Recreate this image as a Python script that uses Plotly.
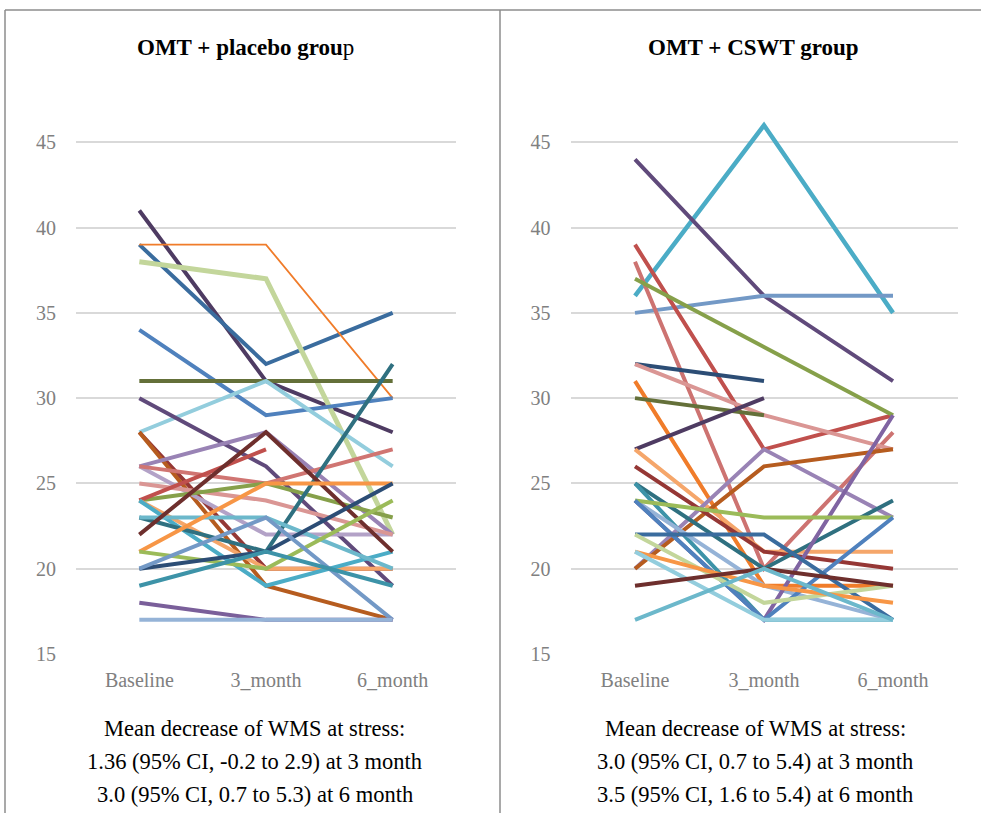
import plotly.graph_objects as go

W, H = 981, 813
time_points = ["Baseline", "3_month", "6_month"]
y_ticks = [15, 20, 25, 30, 35, 40, 45]

# ---- OMT + placebo group (values per patient) ----
placebo_baseline = [41, 39, 39, 38, 34, 31, 28, 30, 28, 28, 26, 26, 26, 25, 24, 24, 24, 24, 23, 23, 22, 21, 21, 20, 20, 19, 18, 17]
placebo_3month   = [31, 32, 39, 37, 29, 31, 31, 26, 20, 19, 28, 22, 25, 24, 25, 27, 20, 19, 21, 23, 28, 25, 20, 21, 23, 21, 17, 17]
placebo_6month   = [28, 35, 30, 22, 30, 31, 26, 19, 20, 17, 22, 22, 27, 22, 23, None, 20, 21, 32, 20, 21, 25, 24, 25, 17, 19, 17, 17]

# ---- OMT + CSWT group ----
cswt_baseline = [36, 44, 35, 39, 38, 37, 32, 32, 31, 30, 27, 27, 20, 20, 26, 25, 25, 24, 24, 24, 24, 22, 22, 21, 21, 19, 17]
cswt_3month   = [46, 36, 36, 27, 20, 33, 31, 29, 19, 29, 30, 21, 27, 26, 21, 20, 17, 19, 17, 23, 17, 22, 18, 19, 17, 20, 20]
cswt_6month   = [35, 31, 36, 29, 28, 29, None, 27, 19, None, None, 21, 23, 27, 20, 24, 17, 17, 29, 23, 23, 17, 19, 18, 17, 19, 17]

# ---- styles ----
placebo_colors = ["#4E3B62", "#3A6C9E", "#F07C2A", "#C3D69B", "#4F81BD", "#647039", "#93CDDD", "#604A7B",
                  "#953735", "#B65C1F", "#9983B5", "#B3A2C7", "#D07572", "#DA9694", "#86A04A", "#C0504D",
                  "#F5A66A", "#4BACC6", "#2F7080", "#6CB8CB", "#6E2F2D", "#F79646", "#9BBB59", "#2C4D75",
                  "#7399C6", "#3D93A8", "#7A5F9A", "#95B3D7"]
placebo_widths = [4] * 28
placebo_widths[2] = 1.8
placebo_widths[3] = 5

cswt_colors = ["#4BACC6", "#604A7B", "#7399C6", "#C0504D", "#CD7371", "#86A04A", "#2C4D75", "#DA9694",
               "#F07C2A", "#647039", "#4E3B62", "#F5A66A", "#9983B5", "#B65C1F", "#953735", "#2F7080",
               "#3D93A8", "#95B3D7", "#8064A2", "#9BBB59", "#4F81BD", "#3A6C9E", "#C3D69B", "#F79646",
               "#93CDDD", "#6E2F2D", "#6CB8CB"]
cswt_widths = [4] * 27
cswt_widths[0] = 4.5

fig = go.Figure()

def add_group(b, m3, m6, colors, widths, xa, ya):
    for i in range(len(b)):
        fig.add_trace(go.Scatter(
            x=time_points, y=[b[i], m3[i], m6[i]], mode="lines",
            line=dict(color=colors[i], width=widths[i]),
            xaxis=xa, yaxis=ya, showlegend=False, hoverinfo="skip", connectgaps=False))

add_group(placebo_baseline, placebo_3month, placebo_6month, placebo_colors, placebo_widths, "x", "y")
add_group(cswt_baseline, cswt_3month, cswt_6month, cswt_colors, cswt_widths, "x2", "y2")

K = 0.985  # observed vertical render factor
def py(px):
    return 1 - (px / K) / H

ydom = [py(653), py(653 - 32 * 17.03)]
tickfont = dict(family="Liberation Serif", size=20, color="#808080")

axis_x = dict(type="category", range=[-0.5, 2.5], showgrid=False, zeroline=False, showline=False,
              ticks="outside", ticklen=8, tickcolor="rgba(0,0,0,0)", tickfont=tickfont)
axis_y = dict(range=[15, 47], tickvals=y_ticks, showgrid=True, gridcolor="#D9D9D9", gridwidth=1.5,
              zeroline=False, showline=False, ticks="outside", ticklen=15, tickcolor="rgba(0,0,0,0)",
              tickfont=tickfont, domain=ydom)

fig.update_layout(
    width=W, height=H, margin=dict(l=0, r=0, t=0, b=0),
    paper_bgcolor="white", plot_bgcolor="white",
    xaxis=dict(axis_x, domain=[76 / W, 456 / W], anchor="y"),
    yaxis=dict(axis_y, anchor="x"),
    xaxis2=dict(axis_x, domain=[570.5 / W, 957.5 / W], anchor="y2"),
    yaxis2=dict(axis_y, anchor="x2"),
)

# frame lines
line_col = "#8C8C8C"
fig.add_shape(type="line", xref="paper", yref="paper", x0=5 / W, x1=1, y0=py(10), y1=py(10),
              line=dict(color=line_col, width=1.5))
fig.add_shape(type="line", xref="paper", yref="paper", x0=5 / W, x1=5 / W, y0=py(813), y1=py(10),
              line=dict(color=line_col, width=1.5))
fig.add_shape(type="line", xref="paper", yref="paper", x0=500 / W, x1=500 / W, y0=py(813), y1=py(10),
              line=dict(color=line_col, width=1.5))

titles = [("<b>OMT + placebo grou</b>p", 245), ("<b>OMT + CSWT group</b>", 753)]
for t, xp in titles:
    fig.add_annotation(text=t, x=xp / W, y=py(47), xref="paper", yref="paper", showarrow=False,
                       xanchor="center", yanchor="middle",
                       font=dict(family="Liberation Serif", size=23, color="#000000"))

notes_left = ["Mean decrease of WMS at stress:",
              "1.36 (95% CI, -0.2 to 2.9) at 3 month",
              "3.0 (95% CI, 0.7 to 5.3) at 6 month"]
notes_right = ["Mean decrease of WMS at stress:",
               "3.0 (95% CI, 0.7 to 5.4) at 3 month",
               "3.5 (95% CI, 1.6 to 5.4) at 6 month"]
rows = [727, 760, 793]
for notes, xp in [(notes_left, 255), (notes_right, 755)]:
    for txt, yp in zip(notes, rows):
        fig.add_annotation(text=txt, x=xp / W, y=py(yp), xref="paper", yref="paper", showarrow=False,
                           xanchor="center", yanchor="middle",
                           font=dict(family="Liberation Serif", size=22.5, color="#000000"))

fig.write_html("out.html")
